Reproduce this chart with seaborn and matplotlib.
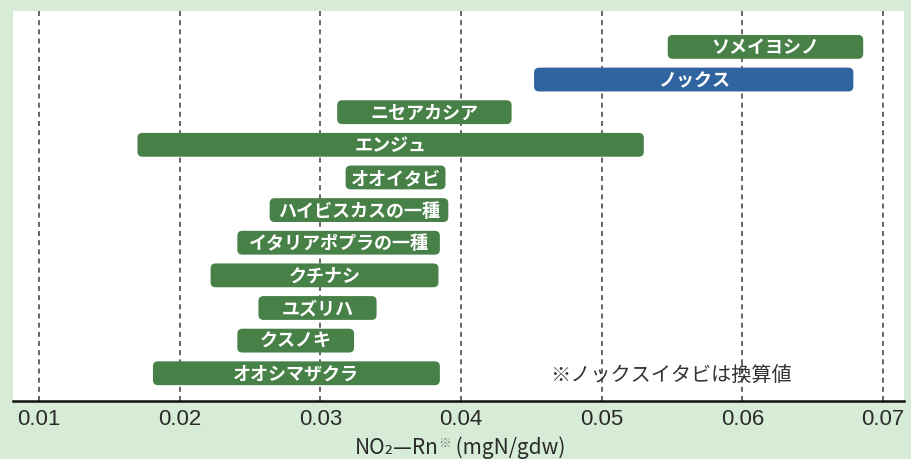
"""
plot.py — NO2 absorption range by plant species (floating horizontal bars).
Writes out.png.
"""

import matplotlib
matplotlib.use("Agg")
import matplotlib.pyplot as plt
from matplotlib.patches import FancyBboxPatch
from matplotlib.offsetbox import AnnotationBbox, HPacker, TextArea
import pandas as pd
import seaborn as sns

# values (mgN/gdw)
species = ["ソメイヨシノ", "ノックス", "ニセアカシア", "エンジュ", "オオイタビ",
           "ハイビスカスの一種", "イタリアポプラの一種", "クチナシ", "ユズリハ",
           "クスノキ", "オオシマザクラ"]
low = [0.0547, 0.0452, 0.0312, 0.0170, 0.0318, 0.0264, 0.0241, 0.0222, 0.0256,
       0.0241, 0.0181]
high = [0.0686, 0.0679, 0.0436, 0.0530, 0.0389, 0.0391, 0.0385, 0.0384, 0.0340,
        0.0324, 0.0385]
kind = ["tree", "nox", "tree", "tree", "tree", "tree", "tree", "tree", "tree",
        "tree", "tree"]
xticks = [0.01, 0.02, 0.03, 0.04, 0.05, 0.06, 0.07]
note = "※ノックスイタビは換算値"
xlabel_parts = ["NO₂—Rn", "※", " (mgN/gdw)"]

GREEN = "#3e8b3f"
BLUE = "#1d62b3"
BG = "#d6ecd7"
INK = "#2a2a2a"

sns.set_theme(style="white")
plt.rcParams["font.family"] = ["Noto Sans CJK JP", "DejaVu Sans"]

df = pd.DataFrame({"species": species, "low": low, "high": high, "kind": kind})

fig, ax = plt.subplots(figsize=(9.11, 4.60), dpi=100)
fig.patch.set_facecolor(BG)
ax.set_facecolor("white")
fig.subplots_adjust(left=13 / 911, right=904 / 911, top=1 - 12 / 460, bottom=1 - 402 / 460)

sns.barplot(data=df, y="species", x="high", hue="kind", order=species,
            palette={"tree": GREEN, "nox": BLUE}, dodge=False, width=0.73,
            legend=False, ax=ax)

ax.set_xlim(0.00815, 0.0715)
ax.set_ylim(10.85, -1.1)

# rounded bars spanning low..high, placed on seaborn's categorical scale
px_x = ax.transData.transform((1, 0))[0] - ax.transData.transform((0, 0))[0]
px_y = abs(ax.transData.transform((0, 1))[1] - ax.transData.transform((0, 0))[1])
aspect = px_x / px_y
for p in list(ax.patches):
    yc = p.get_y() + p.get_height() / 2
    row = df.iloc[int(round(yc))]
    color = p.get_facecolor()
    p.remove()
    box = FancyBboxPatch((row["low"], p.get_y()), row["high"] - row["low"], p.get_height(),
                         boxstyle=f"round,pad=0,rounding_size={5 / px_x}",
                         mutation_aspect=aspect, facecolor=color, edgecolor="none",
                         zorder=3)
    ax.add_patch(box)
    ax.text((row["low"] + row["high"]) / 2, yc, row["species"], color="white",
            fontsize=13, fontweight="bold", ha="center", va="center", zorder=4)

ax.text(0.0549, 10.05, note, fontsize=14.5, color="#333333", ha="center",
        va="center", zorder=4)

ax.set_xticks(xticks)
ax.set_xticklabels([f"{t:.2f}" for t in xticks], family=["Liberation Sans", "DejaVu Sans"],
                   fontsize=16, color=INK)
ax.tick_params(axis="x", length=0, pad=5)
ax.set_yticks([])
ax.set_ylabel("")
ax.set_xlabel("")

# x-axis title with a small raised reference mark
main = dict(fontsize=15, color=INK)
label = HPacker(children=[TextArea(xlabel_parts[0], textprops=main),
                          TextArea(xlabel_parts[1], textprops=dict(fontsize=9, color="#777777")),
                          TextArea(xlabel_parts[2], textprops=main)],
                align="top", pad=0, sep=0)
ab = AnnotationBbox(label, (460 / 911, 1 - 448 / 460), xycoords="figure fraction",
                    frameon=False, annotation_clip=False)
fig.add_artist(ab)

ax.grid(axis="x", linestyle=(0, (3, 2.5)), color="#4a4a4a", linewidth=1.2, zorder=1)
ax.grid(axis="y", visible=False)
ax.set_axisbelow(True)
for side in ["top", "left", "right"]:
    ax.spines[side].set_visible(False)
ax.spines["bottom"].set_color("#111111")
ax.spines["bottom"].set_linewidth(1.8)

plt.savefig("out.png", dpi=100, facecolor=BG)
plt.close()
